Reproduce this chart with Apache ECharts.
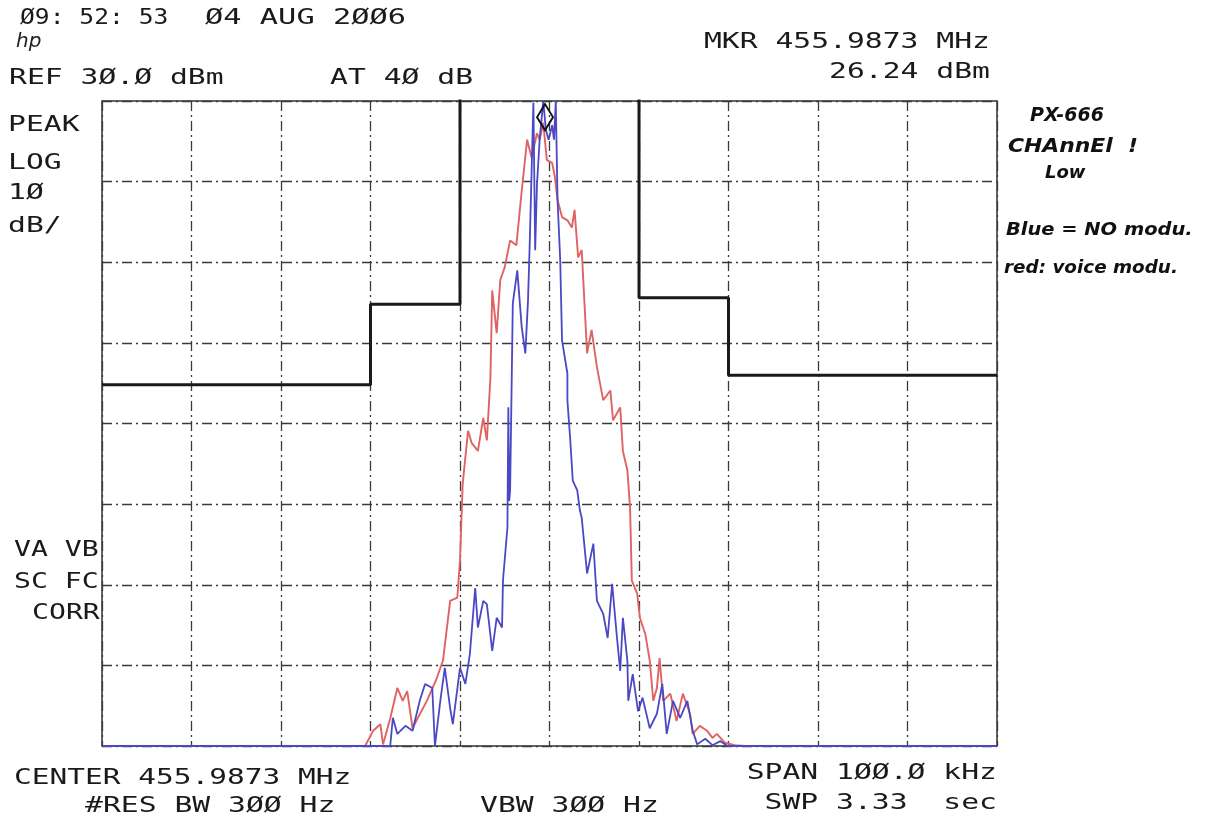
<!DOCTYPE html>
<html><head><meta charset="utf-8">
<script src="https://cdn.jsdelivr.net/npm/echarts@6/dist/echarts.min.js"></script>
<style>html,body{margin:0;padding:0;background:#fff}#c{width:1208px;height:823px}</style>
</head><body><div id="c"></div>
<script>
// Frequency offset from center (kHz) and level (dBm)
const xTicks = [-50,-40,-30,-20,-10,0,10,20,30,40,50];
const yTicks = [-50,-40,-30,-20,-10,0,10,20,30];

const blueFreq  = [-49.9,-18.9,-17.8,-17.5,-17.0,-16.1,-15.3,-14.5,-13.9,-13.1,-12.8,-12.2,-11.7,-11.1,-10.8,-10.0,-9.4,-8.9,-8.3,-8.0,-7.4,-7.0,-6.4,-5.9,-5.3,-5.2,-4.7,-4.6,-4.5,-4.4,-4.1,-3.6,-3.1,-2.7,-2.4,-2.2,-1.8,-1.6,-1.4,-1.1,-0.7,-0.4,-0.1,0.3,0.5,0.7,0.9,1.2,1.4,2.0,2.0,2.3,2.6,3.1,3.4,3.6,4.2,4.9,5.3,6.0,6.5,7.0,7.5,7.9,8.2,8.7,8.8,9.3,9.9,10.4,11.2,12.0,12.6,13.1,13.8,14.6,15.4,16.0,16.5,17.4,18.2,19.1,19.9,50];
const blueLevel = [-50,-50,-50,-46.5,-48.5,-47.5,-48.1,-44.4,-42.3,-42.8,-50,-44.4,-40.3,-45.3,-47.3,-40.3,-42.3,-38.6,-30.4,-35.3,-32.0,-32.4,-38.2,-34.1,-35.3,-29.5,-22.9,-8.0,-19.6,-18.3,4.9,9.0,1.9,-1.3,5.3,12.7,29.8,11.5,19.6,25.2,30,26.4,25.2,27,25.2,30,17.7,10.2,0.3,-3.8,-7.1,-11.7,-17.1,-18.3,-20.8,-21.7,-28.6,-24.9,-32.0,-33.6,-36.6,-29.9,-36.1,-40.7,-34.1,-39.4,-44.4,-41.1,-45.7,-44.0,-47.8,-46.0,-42.3,-48.5,-44.4,-46.5,-44.4,-48.1,-49.8,-49.1,-49.9,-49.4,-50,-50];

const redFreq  = [-49.9,-20.6,-19.7,-18.9,-18.6,-17.8,-17.0,-16.4,-15.9,-15.3,-14.7,-13.7,-12.6,-11.9,-11.1,-10.3,-10.0,-9.7,-9.1,-8.7,-8.0,-7.4,-7.0,-6.6,-6.4,-5.9,-5.5,-5.0,-4.4,-3.7,-3.1,-2.5,-2.0,-1.4,-1.1,-0.7,-0.3,0.3,0.6,0.9,1.4,2.0,2.5,2.8,3.2,3.6,4.2,4.7,5.3,6.0,6.8,7.1,7.9,8.2,8.7,9.0,9.2,9.8,10.1,10.7,11.2,11.6,12.0,12.3,12.7,13.5,14.2,14.9,15.7,16.0,16.8,17.6,18.2,18.7,19.6,20.7,21.8,50];
const redLevel = [-50,-50,-48.1,-47.3,-49.8,-46.6,-42.8,-44.4,-43.2,-47.8,-46.5,-44.4,-41.6,-39.4,-32.0,-31.6,-27.0,-17.5,-10.9,-12.4,-13.4,-9.3,-12.1,-4.3,6.5,1.2,7.8,9.4,12.7,12.1,18.9,25.2,23.0,26.0,25.2,27.3,22.7,22.3,20.6,17.7,15.6,15.2,14.3,16.5,10.6,11.5,-1.3,1.6,-3.0,-7.1,-5.9,-9.6,-8.0,-13.4,-15.8,-20.4,-29.5,-31.1,-34.1,-36.1,-39.4,-44.4,-42.8,-39.1,-44.4,-43.5,-46.9,-43.5,-46.0,-48.5,-47.5,-48.1,-49.0,-48.5,-49.6,-49.9,-50,-50];

const maskFreq  = [-50,-20,-20,-10,-10,10,10,20,20,50];
const maskLevel = [-5.2,-5.2,4.8,4.8,45,45,5.6,5.6,-4.0,-4.0];

const marker = [-0.5, 28];

const zip = (a,b) => a.map((v,i)=>[v,b[i]]);

const chart = echarts.init(document.getElementById('c'));
const mono = '22px "DejaVu Sans Mono"';
function T(x,y,text,align,sx){return {type:'text',x:x,y:y,scaleX:sx||1.35,style:{text:text,font:mono,fill:'#1a1a1a',align:align||'left',verticalAlign:'middle'}};}
function H(x,y,text,size,sx){return {type:'text',x:x,y:y,scaleX:sx||1,style:{text:text,font:'italic bold '+(size||16)+'px "DejaVu Sans"',fill:'#111',align:'left',verticalAlign:'middle'}};}

const gridLine = {color:'#3a3a3a',width:1.3,type:[10,4,2,4]};

chart.setOption({
  backgroundColor:'#fff',
  animation:false,
  grid:{left:102,right:211,top:101,bottom:77,show:true,borderColor:'#333',borderWidth:1.5,backgroundColor:'transparent'},
  xAxis:{type:'value',min:xTicks[0],max:xTicks[xTicks.length-1],interval:10,axisLabel:{show:false},axisTick:{show:false},axisLine:{show:false},splitLine:{show:true,lineStyle:gridLine}},
  yAxis:{type:'value',min:yTicks[0],max:yTicks[yTicks.length-1],interval:10,axisLabel:{show:false},axisTick:{show:false},axisLine:{show:false},splitLine:{show:true,lineStyle:gridLine}},
  series:[
    {type:'line',data:zip(redFreq,redLevel),showSymbol:false,clip:true,lineStyle:{color:'#e06262',width:1.9},z:2},
    {type:'line',data:zip(blueFreq,blueLevel),showSymbol:false,clip:true,lineStyle:{color:'#4a48c4',width:1.8},z:3,
     markPoint:{symbol:'diamond',symbolSize:[16,26],silent:true,label:{show:false},itemStyle:{color:'rgba(0,0,0,0)',borderColor:'#111',borderWidth:2},data:[{coord:marker}]}},
    {type:'line',data:zip(maskFreq,maskLevel),showSymbol:false,clip:true,lineStyle:{color:'#1a1a1a',width:3},z:4}
  ],
  graphic:[
    T(20,18,'Ø9: 52: 53','left',1.12),
    T(205,18,'Ø4 AUG 2ØØ6','left',1.38),
    {type:'text',x:16,y:42,style:{text:'hp',font:'italic 20px "DejaVu Sans"',fill:'#222',verticalAlign:'middle'}},
    T(9,78,'REF 3Ø.Ø dBm'),
    T(330,78,'AT 4Ø dB'),
    T(990,42,'MKR 455.9873 MHz','right'),
    T(990,72,'26.24 dBm','right'),
    T(8,125,'PEAK'),
    T(8,163,'LOG'),
    T(8,193,'1Ø'),
    T(8,226,'dB/'),
    T(14,550,'VA VB','left',1.28),
    T(14,582,'SC FC','left',1.28),
    T(32,613,'CORR','left',1.28),
    T(14,778,'CENTER 455.9873 MHz','left',1.34),
    T(85,806,'#RES BW 3ØØ Hz'),
    T(480,806,'VBW 3ØØ Hz'),
    T(997,773,'SPAN 1ØØ.Ø kHz','right'),
    T(997,803,'SWP 3.33  sec','right'),
    H(1030,116,'PX-666',19),
    H(1008,147,'CHAnnEl  !',19,1.15),
    H(1045,173,'Low',18),
    H(1006,230,'Blue = NO modu.',18,1.08),
    H(1004,268,'red: voice modu.',18,1.02)
  ]
});
</script></body></html>
